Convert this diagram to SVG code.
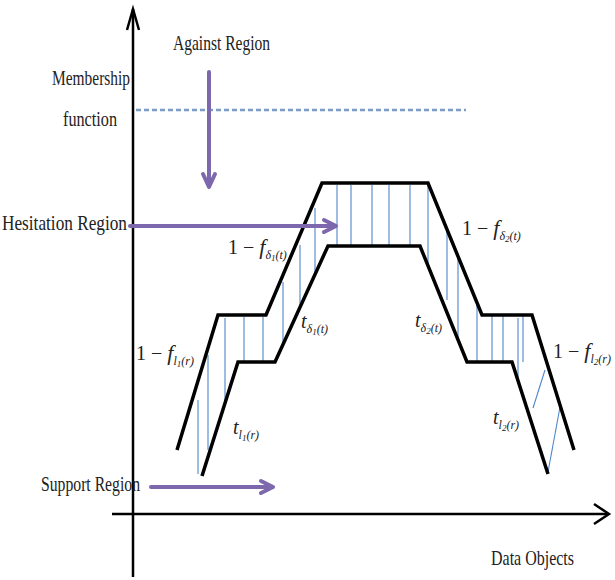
<svg xmlns="http://www.w3.org/2000/svg" width="615" height="580" viewBox="0 0 615 580">
<style>
.lbl{font-family:"Liberation Serif","Times New Roman",serif;font-size:21px;fill:#222}
.m{font-family:"Liberation Serif","Times New Roman",serif;font-size:20px;fill:#222}
.mi{font-family:"Liberation Serif","Times New Roman",serif;font-style:italic;fill:#222}
.sb{font-size:12px}
.dg{font-size:9px}
.curve{fill:none;stroke:#000;stroke-width:3.5;stroke-linejoin:miter}
.hatch{stroke:#4f86c8;stroke-width:1.1}
.axis{fill:none;stroke:#000;stroke-width:2.5}
.parrow{fill:none;stroke:#7d68ad;stroke-width:4;stroke-linecap:round;stroke-linejoin:round}
</style>
<rect width="615" height="580" fill="#fff"/>
<g id="axes">
<line class="axis" x1="133" y1="577" x2="133" y2="9"/>
<polyline class="axis" points="127,30 133,9 139,30"/>
<line class="axis" x1="112" y1="514" x2="608" y2="514"/>
<polyline class="axis" points="594,504 609,514 594,524"/>
</g>
<g id="membership-line">
<line x1="136" y1="110" x2="466" y2="110" stroke="#7a9cc6" stroke-width="2.5" stroke-dasharray="5 3"/>
</g>
<g id="hatching">
<line class="hatch" x1="198" y1="400" x2="198" y2="474"/>
<line class="hatch" x1="208" y1="355" x2="208" y2="450"/>
<line class="hatch" x1="225" y1="318" x2="225" y2="402"/>
<line class="hatch" x1="244" y1="317" x2="244" y2="362"/>
<line class="hatch" x1="263" y1="317" x2="263" y2="362"/>
<line class="hatch" x1="283" y1="282" x2="283" y2="346"/>
<line class="hatch" x1="300" y1="245" x2="300" y2="308"/>
<line class="hatch" x1="315" y1="208" x2="315" y2="275"/>
<line class="hatch" x1="337" y1="185" x2="337" y2="246"/>
<line class="hatch" x1="351" y1="185" x2="351" y2="246"/>
<line class="hatch" x1="372" y1="185" x2="372" y2="246"/>
<line class="hatch" x1="389" y1="185" x2="389" y2="246"/>
<line class="hatch" x1="410" y1="185" x2="410" y2="246"/>
<line class="hatch" x1="428" y1="185" x2="428" y2="264"/>
<line class="hatch" x1="447" y1="232" x2="447" y2="300"/>
<line class="hatch" x1="458" y1="258" x2="458" y2="338"/>
<line class="hatch" x1="477" y1="303" x2="477" y2="362"/>
<line class="hatch" x1="492" y1="316" x2="492" y2="362"/>
<line class="hatch" x1="503" y1="316" x2="503" y2="362"/>
<line class="hatch" x1="523" y1="316" x2="523" y2="362"/>
<line class="hatch" x1="518" y1="318" x2="518" y2="380"/>
<line class="hatch" x1="533" y1="408" x2="545" y2="370"/>
<line class="hatch" x1="548" y1="472" x2="560" y2="407"/>
</g>
<g id="upper-curve">
<polyline class="curve" points="177,450 218,315 266,315 322,183 428,183 482,315 532,315 574,450"/>
</g>
<g id="lower-curve">
<polyline class="curve" points="202,476 238,362 275,362 328,246 420,246 467,362 512,362 548,474"/>
</g>
<g id="against-region">
<text class="lbl" x="173" y="50" textLength="97" lengthAdjust="spacingAndGlyphs">Against Region</text>
<line class="parrow" x1="209" y1="72" x2="209" y2="186"/>
<polyline class="parrow" points="203,174 209,187 215,174"/>
</g>
<g id="membership-label">
<text class="lbl" x="52" y="85" textLength="78" lengthAdjust="spacingAndGlyphs">Membership</text>
<text class="lbl" x="63" y="126" textLength="54" lengthAdjust="spacingAndGlyphs">function</text>
</g>
<g id="hesitation-region">
<text class="lbl" x="2" y="230" textLength="125" lengthAdjust="spacingAndGlyphs">Hesitation Region</text>
<line class="parrow" x1="130" y1="226" x2="335" y2="226"/>
<polyline class="parrow" points="324,220 336,226 324,232"/>
</g>
<g id="support-region">
<text class="lbl" x="41" y="491" textLength="99" lengthAdjust="spacingAndGlyphs">Support Region</text>
<line class="parrow" x1="151" y1="487" x2="272" y2="487"/>
<polyline class="parrow" points="261,481 273,487 261,493"/>
</g>
<g id="data-objects">
<text class="lbl" x="491" y="565" textLength="83" lengthAdjust="spacingAndGlyphs">Data Objects</text>
</g>
<g id="label-f-d1">
<text class="m" x="228" y="254">1 − <tspan class="mi" font-size="22">f</tspan><tspan class="mi sb" dy="5">δ</tspan><tspan class="mi dg" dy="2">1</tspan><tspan class="mi sb" dy="-2">(t)</tspan></text>
</g>
<g id="label-t-d1">
<text class="mi" font-size="20" x="301" y="328">t<tspan class="sb" dy="5">δ</tspan><tspan class="dg" dy="2">1</tspan><tspan class="sb" dy="-2">(t)</tspan></text>
</g>
<g id="label-f-l1">
<text class="m" x="136" y="360">1 − <tspan class="mi" font-size="22">f</tspan><tspan class="mi sb" dy="5">l</tspan><tspan class="mi dg" dy="2">1</tspan><tspan class="mi sb" dy="-2">(r)</tspan></text>
</g>
<g id="label-t-l1">
<text class="mi" font-size="20" x="233" y="434">t<tspan class="sb" dy="5">l</tspan><tspan class="dg" dy="2">1</tspan><tspan class="sb" dy="-2">(r)</tspan></text>
</g>
<g id="label-f-d2">
<text class="m" x="462" y="235">1 − <tspan class="mi" font-size="22">f</tspan><tspan class="mi sb" dy="5">δ</tspan><tspan class="mi dg" dy="2">2</tspan><tspan class="mi sb" dy="-2">(t)</tspan></text>
</g>
<g id="label-t-d2">
<text class="mi" font-size="20" x="415" y="327">t<tspan class="sb" dy="5">δ</tspan><tspan class="dg" dy="2">2</tspan><tspan class="sb" dy="-2">(t)</tspan></text>
</g>
<g id="label-f-l2">
<text class="m" x="553" y="358">1 − <tspan class="mi" font-size="22">f</tspan><tspan class="mi sb" dy="5">l</tspan><tspan class="mi dg" dy="2">2</tspan><tspan class="mi sb" dy="-2">(r)</tspan></text>
</g>
<g id="label-t-l2">
<text class="mi" font-size="20" x="493" y="424">t<tspan class="sb" dy="5">l</tspan><tspan class="dg" dy="2">2</tspan><tspan class="sb" dy="-2">(r)</tspan></text>
</g>
</svg>
